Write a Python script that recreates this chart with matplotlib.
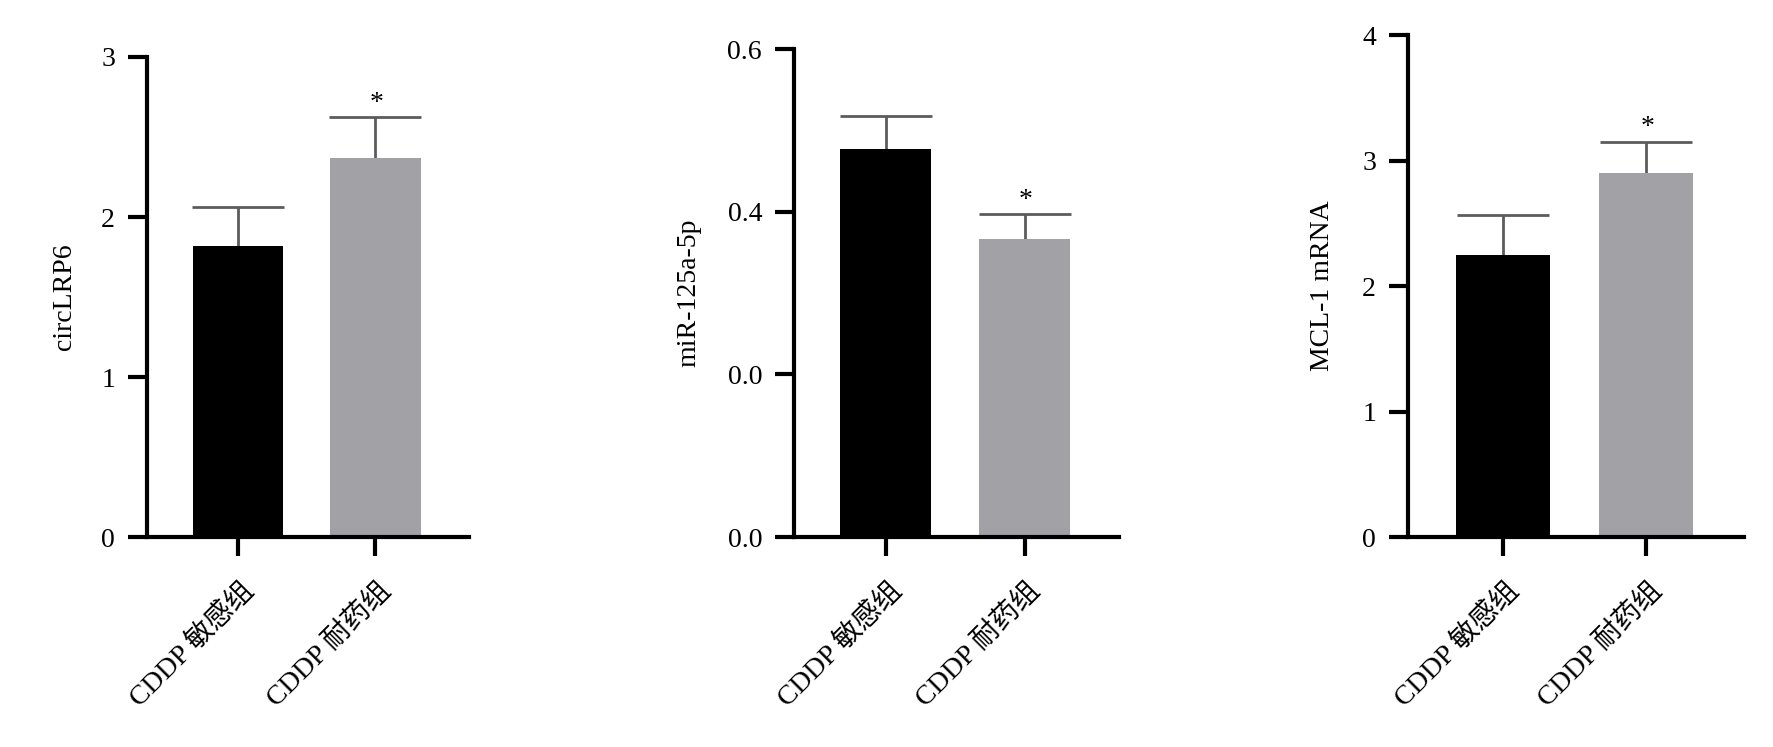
import numpy as np
import matplotlib
matplotlib.use('Agg')
import matplotlib.pyplot as plt
from matplotlib.transforms import ScaledTranslation

plt.rcParams['font.family'] = ['Liberation Serif', 'Noto Sans CJK SC']

groups = ['CDDP 敏感组', 'CDDP 耐药组']

# circLRP6
circ_mean = [1.82, 2.37]
circ_err = [0.24, 0.255]
# miR-125a-5p
mir_mean = [0.477, 0.366]
mir_err = [0.041, 0.031]
# MCL-1 mRNA
mcl_mean = [2.247, 2.90]
mcl_err = [0.32, 0.25]

ylabels = ['circLRP6', 'miR-125a-5p', 'MCL-1 mRNA']
yticks = [[0, 1, 2, 3], [0, 0.2, 0.4, 0.6], [0, 1, 2, 3, 4]]
yticklabels = [['0', '1', '2', '3'], ['0.0', '0.0', '0.4', '0.6'], ['0', '1', '2', '3', '4']]
ylims = [3, 0.6, 4]
stars = [[False, True], [False, True], [False, True]]

bar_colors = ['#000000', '#a2a1a6']
err_color = '#5c5c5c'

fig = plt.figure(figsize=(17.74, 7.47), dpi=100)

# axes boxes (figure fraction)
boxes = [(0.0829, 0.2811, 0.1815, 0.6426),
         (0.4476, 0.2811, 0.1832, 0.6533),
         (0.7937, 0.2811, 0.1894, 0.6720)]
label_x = [-0.255, -0.323, -0.256]

means = [circ_mean, mir_mean, mcl_mean]
errs = [circ_err, mir_err, mcl_err]

for k in range(3):
    ax = fig.add_axes(boxes[k])
    x = np.arange(len(groups))
    m = means[k]
    e = errs[k]
    _, caps, _ = ax.errorbar(x, m, yerr=[np.zeros(len(e)), e], fmt='none', ecolor=err_color,
                             elinewidth=2, capsize=33, capthick=2, zorder=1)
    # only the upper cap is wanted
    for c in caps:
        if np.allclose(c.get_ydata(), m):
            c.set_visible(False)
    ax.bar(x, m, width=0.655, color=bar_colors, zorder=2)

    for i in range(len(groups)):
        if stars[k][i]:
            ax.annotate('*', (x[i], m[i] + e[i]), xytext=(1, 1), textcoords='offset points',
                        ha='center', va='bottom', fontsize=20)

    ax.set_xlim(-0.66, 1.68)
    ax.set_ylim(0, ylims[k])
    ax.set_yticks(yticks[k])
    ax.set_yticklabels(yticklabels[k])
    ax.set_xticks(x)
    ax.set_xticklabels(groups)

    for s in ['top', 'right']:
        ax.spines[s].set_visible(False)
    for s in ['left', 'bottom']:
        ax.spines[s].set_linewidth(3)

    ax.tick_params(axis='y', length=14, width=3, labelsize=20, pad=9)
    ax.tick_params(axis='x', length=14, width=3, labelsize=20, pad=22)

    for lab in ax.get_xticklabels():
        lab.set_rotation(45)
        lab.set_ha('right')
        lab.set_va('center')
        lab.set_rotation_mode('anchor')
        lab.set_transform(lab.get_transform() + ScaledTranslation(0.12, 0, fig.dpi_scale_trans))

    ax.set_ylabel(ylabels[k], fontsize=20, va='center')
    ax.yaxis.set_label_coords(label_x[k], 0.5)

plt.savefig('out.png', dpi=100)
